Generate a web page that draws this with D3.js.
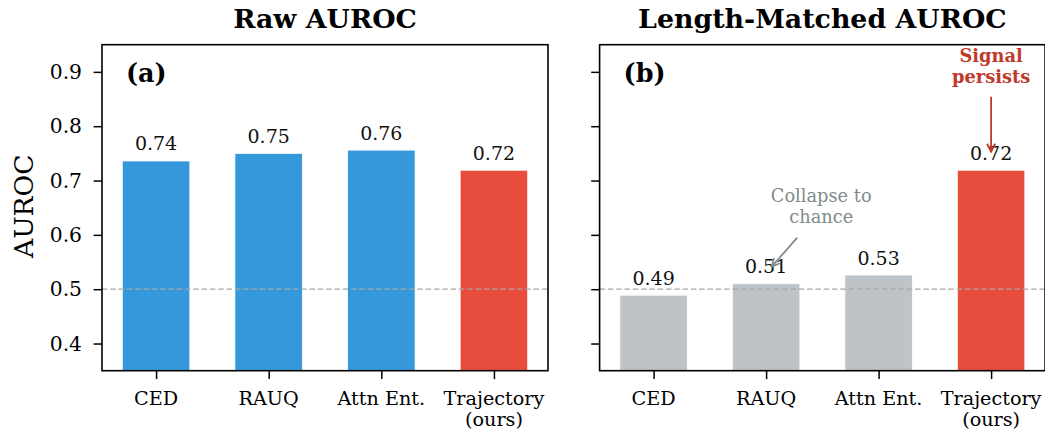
<!DOCTYPE html>
<html>
<head>
<meta charset="utf-8">
<script src="https://cdn.jsdelivr.net/npm/d3@7"></script>
<style>
    body { margin: 0; background: #fff; }
    svg { display: block; font-family: "DejaVu Serif", serif; }
</style>
</head>
<body>
<div id="chart"></div>
<script>
// data
var methods = ["CED", "RAUQ", "Attn Ent.", "Trajectory\n(ours)"];
var rawAuroc = [0.736, 0.750, 0.756, 0.719];
var matchedAuroc = [0.489, 0.510, 0.526, 0.719];
var yTicks = [0.4, 0.5, 0.6, 0.7, 0.8, 0.9];
var panelTitles = ["Raw AUROC", "Length-Matched AUROC"];
var panelTags = ["(a)", "(b)"];
var chanceLevel = 0.5;

var width = 1045, height = 431;
var svg = d3.select("#chart").append("svg")
    .attr("width", width)
    .attr("height", height);

var yscale = d3.scaleLinear().domain([0.35, 0.95]).range([370.7, 44.7]);

var panels = [
    { left: 102, right: 548, values: rawAuroc,
      colors: ["#3498db", "#3498db", "#3498db", "#e74c3c"], ticklabels: true },
    { left: 599.6, right: 1045.1, values: matchedAuroc,
      colors: ["#bdc3c7", "#bdc3c7", "#bdc3c7", "#e74c3c"], ticklabels: false }
];

panels.forEach(function (p, pi) {
    var xscale = d3.scaleLinear().domain([-0.48, 3.48]).range([p.left, p.right]);
    var unit = xscale(1) - xscale(0);
    var g = svg.append("g");

    // bars
    g.selectAll("rect").data(p.values).enter()
        .append("rect")
        .attr("x", function (d, i) { return xscale(i) - 0.3 * unit; })
        .attr("width", 0.6 * unit)
        .attr("y", function (d) { return yscale(d); })
        .attr("height", function (d) { return yscale(0.35) - yscale(d); })
        .attr("fill", function (d, i) { return p.colors[i]; })
        .attr("stroke", "#fff")
        .attr("stroke-width", 0.8);

    // chance line
    g.append("line")
        .attr("x1", p.left).attr("x2", p.right)
        .attr("y1", yscale(chanceLevel)).attr("y2", yscale(chanceLevel))
        .attr("stroke", "#a6a6a6")
        .attr("stroke-width", 1.3)
        .attr("stroke-dasharray", "5.5,2.8");

    // value labels
    g.selectAll("text.val").data(p.values).enter()
        .append("text")
        .attr("class", "val")
        .attr("x", function (d, i) { return xscale(i); })
        .attr("y", function (d) { return yscale(d) - 10.5; })
        .attr("text-anchor", "middle")
        .attr("font-size", 19)
        .attr("fill", "#111")
        .text(function (d) { return d.toFixed(2); });

    // y axis
    var yAxis = d3.axisLeft(yscale).tickValues(yTicks).tickSizeOuter(0).tickSizeInner(8.4).tickPadding(11.6)
        .tickFormat(p.ticklabels ? d3.format(".1f") : "");
    var ya = svg.append("g").attr("transform", "translate(" + p.left + ",0)").call(yAxis);
    ya.select(".domain").remove();
    ya.selectAll("line").attr("stroke", "#000").attr("stroke-width", 1.5);
    ya.selectAll("text").attr("font-size", 20.3).attr("font-family", "DejaVu Serif").attr("fill", "#000");

    // x axis
    var xAxis = d3.axisBottom(xscale).tickValues([0, 1, 2, 3]).tickSizeOuter(0).tickSizeInner(8.4).tickFormat("");
    var xa = svg.append("g").attr("transform", "translate(0," + yscale(0.35) + ")").call(xAxis);
    xa.select(".domain").remove();
    xa.selectAll("line").attr("stroke", "#000").attr("stroke-width", 1.5);

    var lab = svg.append("g").selectAll("text").data(methods).enter()
        .append("text")
        .attr("text-anchor", "middle")
        .attr("font-size", 19.2)
        .attr("fill", "#000");
    lab.each(function (d, i) {
        var t = d3.select(this);
        d.split("\n").forEach(function (line, li) {
            t.append("tspan")
                .attr("x", xscale(i))
                .attr("y", 405.2 + li * 21)
                .text(line);
        });
    });

    // spines
    svg.append("rect")
        .attr("x", p.left).attr("y", yscale(0.95))
        .attr("width", p.right - p.left)
        .attr("height", yscale(0.35) - yscale(0.95))
        .attr("fill", "none")
        .attr("stroke", "#000")
        .attr("stroke-width", 1.6);

    // title and tag
    svg.append("text")
        .attr("x", (p.left + p.right) / 2)
        .attr("y", 27.8)
        .attr("text-anchor", "middle")
        .attr("font-size", 26.8)
        .attr("font-weight", "bold")
        .text(panelTitles[pi]);

    svg.append("text")
        .attr("x", p.left + 24)
        .attr("y", 81.8)
        .attr("font-size", 25.5)
        .attr("font-weight", "bold")
        .text(panelTags[pi]);

    p.xscale = xscale;
});

// y label
svg.append("text")
    .attr("transform", "translate(32.5," + ((yscale(0.35) + yscale(0.95)) / 2 - 1.5) + ") rotate(-90)")
    .attr("text-anchor", "middle")
    .attr("font-size", 26.5)
    .text("AUROC");

// arrowheads
var defs = svg.append("defs");
function arrowMarker(id, color) {
    defs.append("marker")
        .attr("id", id)
        .attr("viewBox", "0 0 10 10")
        .attr("refX", 9).attr("refY", 5)
        .attr("markerWidth", 10).attr("markerHeight", 10)
        .attr("markerUnits", "userSpaceOnUse")
        .attr("orient", "auto")
        .append("path")
        .attr("d", "M1,1 L9,5 L1,9")
        .attr("fill", "none")
        .attr("stroke", color)
        .attr("stroke-width", 1.8);
}
arrowMarker("arrRed", "#c0392b");
arrowMarker("arrGray", "#7f8c8d");

var xR = panels[1].xscale;

// "Signal persists" annotation
var sig = svg.append("text")
    .attr("text-anchor", "middle")
    .attr("font-size", 17.8)
    .attr("font-weight", "bold")
    .attr("fill", "#c0392b");
["Signal", "persists"].forEach(function (line, li) {
    sig.append("tspan").attr("x", xR(3)).attr("y", yscale(0.919) + li * 21.6).text(line);
});
svg.append("line")
    .attr("x1", xR(3)).attr("y1", yscale(0.854))
    .attr("x2", xR(3)).attr("y2", yscale(0.753))
    .attr("stroke", "#c0392b")
    .attr("stroke-width", 1.8)
    .attr("marker-end", "url(#arrRed)");

// "Collapse to chance" annotation
var col = svg.append("text")
    .attr("text-anchor", "middle")
    .attr("font-size", 17.8)
    .attr("fill", "#7f8c8d");
["Collapse to", "chance"].forEach(function (line, li) {
    col.append("tspan").attr("x", xR(1.49)).attr("y", yscale(0.66) + li * 21).text(line);
});
svg.append("line")
    .attr("x1", xR(1.277)).attr("y1", yscale(0.595))
    .attr("x2", xR(1.05)).attr("y2", yscale(0.5415))
    .attr("stroke", "#7f8c8d")
    .attr("stroke-width", 1.8)
    .attr("marker-end", "url(#arrGray)");
</script>
</body>
</html>
